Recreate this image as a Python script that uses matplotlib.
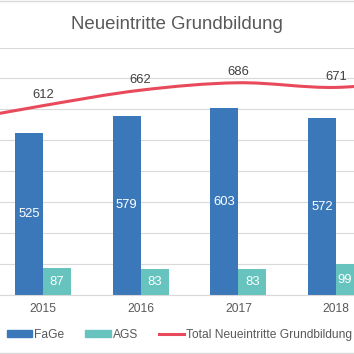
import matplotlib
matplotlib.use('Agg')
import matplotlib.pyplot as plt
from matplotlib.path import Path
from matplotlib.patches import PathPatch, Patch
from matplotlib.lines import Line2D
import numpy as np

plt.rcParams['font.family'] = ['Liberation Sans', 'DejaVu Sans']

years = ['2015', '2016', '2017', '2018']
fage = [525, 579, 603, 572]
ags = [87, 83, 83, 99]
# the total line runs on past the crop on both sides
total_years = [2014, 2015, 2016, 2017, 2018, 2019]
total = [555, 612, 662, 686, 671, 700]

c_fage = '#3A78B9'
c_ags = '#66C3BE'
c_total = '#E84A5C'
c_text = '#595959'
c_grid = '#D9D9D9'

fig = plt.figure(figsize=(3.54, 3.54), dpi=100)
ax = fig.add_axes([0, 59 / 354, 1, 247.5 / 354])

x = np.arange(len(years))
bw = 0.287
b1 = ax.bar(x - bw / 2, fage, bw, color=c_fage, zorder=2)
b2 = ax.bar(x + bw / 2, ags, bw, color=c_ags, zorder=2)
ax.bar_label(b1, label_type='center', color='white', fontsize=9.4)
ax.bar_label(b2, label_type='center', color='white', fontsize=9.4)

# smoothed line (excel style bezier)
tx = np.array(total_years, dtype=float) - 2015
pts = np.column_stack([tx, total])
ext = np.vstack([pts[0], pts, pts[-1]])
verts = [pts[0]]
codes = [Path.MOVETO]
for i in range(len(pts) - 1):
    p0, p1, p2, p3 = ext[i], ext[i + 1], ext[i + 2], ext[i + 3]
    verts += [p1 + (p2 - p0) / 6, p2 - (p3 - p1) / 6, p2]
    codes += [Path.CURVE4] * 3
ax.add_patch(PathPatch(Path(verts, codes), fill=False, edgecolor=c_total,
                       lw=2.2, zorder=3, capstyle='round'))
for yr, v in zip(total_years, total):
    if str(yr) in years:
        ax.annotate(str(v), (yr - 2015, v), xytext=(0, 7.5), textcoords='offset points',
                    ha='center', va='center', fontsize=9.4, color='#404040')

ax.set_ylim(0, 800)
ax.set_xlim(-0.44, 3.184)
ax.set_yticks(np.arange(0, 801, 100))
ax.set_yticklabels([])
ax.set_xticks(x)
ax.set_xticklabels(years)
ax.tick_params(axis='both', length=0)
ax.tick_params(axis='x', pad=5.8, labelsize=8.64, labelcolor=c_text)
ax.yaxis.grid(True, color=c_grid, lw=0.8, zorder=0)
ax.set_axisbelow(True)
for s in ['top', 'left', 'right']:
    ax.spines[s].set_visible(False)
ax.spines['bottom'].set_color(c_grid)
ax.spines['bottom'].set_linewidth(0.8)

fig.text(176.5 / 354, 1 - 29.3 / 354, 'Neueintritte Grundbildung', ha='center',
         va='baseline', fontsize=13.4, color=c_text)

handles = [Patch(color=c_fage, label='FaGe'), Patch(color=c_ags, label='AGS'),
           Line2D([], [], color=c_total, lw=2.2, label='Total Neueintritte Grundbildung')]
leg = fig.legend(handles=handles, loc='center left', bbox_to_anchor=(7 / 354, 19 / 354),
                 ncol=3, frameon=False, fontsize=8.64, handlelength=2.1, handleheight=0.5,
                 handletextpad=0.18, columnspacing=1.75, borderpad=0, borderaxespad=0)
for t in leg.get_texts():
    t.set_color(c_text)

# chart area border lines
fig.add_artist(Line2D([0, 1], [1 - 1 / 354, 1 - 1 / 354], color=c_grid, lw=1))
fig.add_artist(Line2D([0, 1], [1 / 354, 1 / 354], color=c_grid, lw=1))

fig.savefig('out.png', dpi=100)
